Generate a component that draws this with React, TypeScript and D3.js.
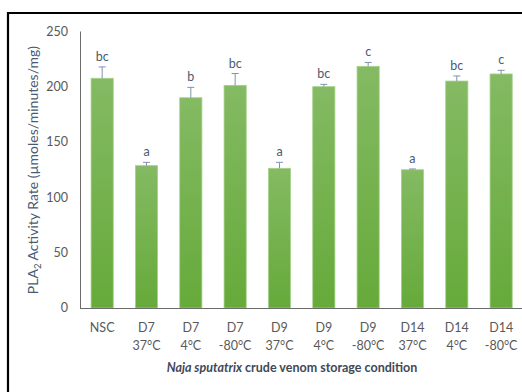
import React from "react";
import * as d3 from "d3";

const categories = ["NSC", "D7|37°C", "D7|4°C", "D7|-80°C", "D9|37°C", "D9|4°C", "D9|-80°C", "D14|37°C", "D14|4°C", "D14|-80°C"];
const activity = [207.7, 128.7, 190.1, 201.3, 126.3, 200.1, 218.5, 125.0, 205.2, 211.6];
const errorUp = [10.3, 3.0, 9.4, 10.7, 5.4, 2.1, 3.5, 0.7, 4.6, 3.3];
const groups = ["bc", "a", "b", "bc", "a", "bc", "c", "a", "bc", "c"];
const yTicks = [0, 50, 100, 150, 200, 250];

const W = 522;
const H = 392;
const left = 80;
const right = 523.3;
const top = 31.5;
const bottom = 308;
const font = "Lato, 'Open Sans', sans-serif";

export default function App() {
  const x = d3.scaleBand<string>().domain(categories).range([left, right]).paddingInner(0.5).paddingOuter(0.25);
  const y = d3.scaleLinear().domain([0, 250]).range([bottom, top]);

  return (
    <svg width={W} height={H} style={{ position: "absolute", left: 0, top: 0 }} fontFamily={font}>
      <defs>
        <linearGradient id="barFill" x1="0" y1="0" x2="0" y2="1">
          <stop offset="0%" stopColor="#84ba63" />
          <stop offset="100%" stopColor="#66aa3a" />
        </linearGradient>
      </defs>
      <rect x={0} y={0} width={W} height={H} fill="#ffffff" />
      {/* outer frame: top and left edges */}
      <line x1={7} y1={13} x2={W} y2={13} stroke="#000" strokeWidth={2.2} />
      <line x1={8} y1={12} x2={8} y2={H} stroke="#000" strokeWidth={2.2} />

      {/* y axis */}
      <line x1={left + 0.5} y1={y(250)} x2={left + 0.5} y2={bottom} stroke="#6b6b6b" strokeWidth={1} />
      {yTicks.map((t) => (
        <text key={t} x={68} y={y(t)} dy="0.35em" textAnchor="end" fontSize={12.5} fill="#595959">
          {t}
        </text>
      ))}

      {/* bars, error bars and group letters */}
      {categories.map((c, i) => {
        const bx = x(c)!;
        const bw = x.bandwidth();
        const cx = bx + bw / 2;
        const yTop = y(activity[i]);
        const yErr = y(activity[i] + errorUp[i]);
        return (
          <g key={c}>
            <rect x={bx} y={yTop} width={bw} height={bottom - yTop} fill="url(#barFill)" stroke="#a6d189" strokeWidth={0.8} />
            <line x1={cx} y1={yTop} x2={cx} y2={yErr} stroke="#7f93ad" strokeWidth={1} />
            <line x1={cx - 3.5} y1={yErr} x2={cx + 3.5} y2={yErr} stroke="#7f93ad" strokeWidth={1} />
            <text x={cx} y={yErr - 6} textAnchor="middle" fontSize={12.5} fill="#4a5a72">
              {groups[i]}
            </text>
          </g>
        );
      })}

      {/* x axis */}
      <line x1={left} y1={bottom + 0.5} x2={W} y2={bottom + 0.5} stroke="#6b6b6b" strokeWidth={1} />
      {categories.map((c) => {
        const cx = x(c)! + x.bandwidth() / 2;
        const lines = c.split("|");
        return (
          <text key={c} x={cx} textAnchor="middle" fontSize={12.5} fill="#595959">
            {lines.map((l, j) => (
              <tspan key={j} x={cx} y={332 + j * 17.5}>
                {l}
              </tspan>
            ))}
          </text>
        );
      })}

      {/* axis titles */}
      <text x={292} y={372} textAnchor="middle" fontSize={12.5} fontWeight={700} fill="#404858">
        <tspan fontStyle="italic">Naja sputatrix</tspan>
        <tspan> crude venom storage condition</tspan>
      </text>
      <text transform={`translate(38, 170) rotate(-90)`} textAnchor="middle" fontSize={14} fill="#4a5a72">
        PLA<tspan fontSize={9.5} dy="3">2</tspan>
        <tspan dy="-3"> Activity Rate (µmoles/minutes/mg)</tspan>
      </text>
    </svg>
  );
}
